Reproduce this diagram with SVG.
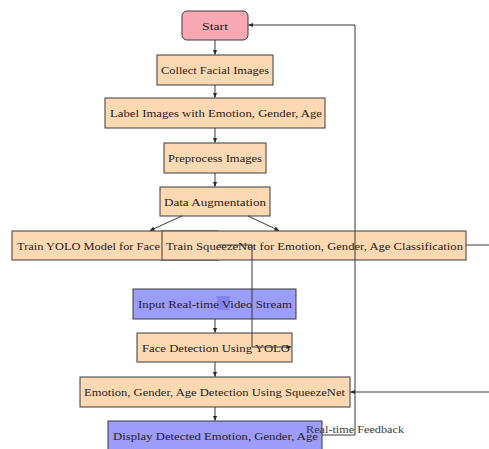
<svg xmlns="http://www.w3.org/2000/svg" width="489" height="449" viewBox="0 0 489 449">
<style>
.n{stroke:#3a3a3a;stroke-width:1}
.o{fill:#fdd9b3}
.b{fill:#9c9cfb}
.p{fill:#f7a8b2}
.t{font-family:"Liberation Serif","DejaVu Serif",serif;font-size:11px;fill:#2a2218;text-anchor:middle;dominant-baseline:central}
.e{fill:none;stroke:#3a3a3a;stroke-width:1}
</style>
<defs>
<marker id="a" viewBox="0 0 6 6" refX="5.5" refY="3" markerWidth="5" markerHeight="5" orient="auto" markerUnits="userSpaceOnUse">
<path d="M0,0.5 L6,3 L0,5.5 z" fill="#2a2a2a"/>
</marker>
</defs>
<rect width="489" height="449" fill="#ffffff"/>
<g id="start"><rect class="n p" x="182" y="11" width="66" height="29" rx="5"/><text class="t" x="215" y="25.5" textLength="26" lengthAdjust="spacingAndGlyphs">Start</text></g>
<g id="collect"><rect class="n o" x="157" y="55" width="116" height="30"/><text class="t" x="215" y="70" textLength="108" lengthAdjust="spacingAndGlyphs">Collect Facial Images</text></g>
<g id="label"><rect class="n o" x="105" y="98" width="220" height="30"/><text class="t" x="216" y="113" textLength="212" lengthAdjust="spacingAndGlyphs">Label Images with Emotion, Gender, Age</text></g>
<g id="preprocess"><rect class="n o" x="164" y="143" width="102" height="30"/><text class="t" x="215" y="158" textLength="94" lengthAdjust="spacingAndGlyphs">Preprocess Images</text></g>
<g id="augment"><rect class="n o" x="160" y="187" width="110" height="29"/><text class="t" x="215" y="201.5" textLength="102" lengthAdjust="spacingAndGlyphs">Data Augmentation</text></g>
<g id="trainyolo"><rect class="n o" x="12" y="231" width="206" height="29"/><text class="t" x="17" y="245.5" textLength="143" lengthAdjust="spacingAndGlyphs" style="text-anchor:start">Train YOLO Model for Face</text></g>
<g id="trainsq"><rect class="n o" x="162" y="231" width="304" height="29"/><text class="t" x="314.5" y="245.5" textLength="297" lengthAdjust="spacingAndGlyphs">Train SqueezeNet for Emotion, Gender, Age Classification</text></g>
<g id="input"><rect class="n b" x="133" y="289" width="163" height="30"/><rect x="217" y="296" width="13" height="14" fill="#7a7ae8" opacity="0.7"/><text class="t" x="215" y="304" textLength="154" lengthAdjust="spacingAndGlyphs">Input Real-time Video Stream</text></g>
<g id="facedet"><rect class="n o" x="137" y="333" width="155" height="29"/><text class="t" x="216" y="347.5" textLength="148" lengthAdjust="spacingAndGlyphs">Face Detection Using YOLO</text></g>
<g id="emotion"><rect class="n o" x="80" y="377" width="270" height="30"/><text class="t" x="214.5" y="392" textLength="261" lengthAdjust="spacingAndGlyphs">Emotion, Gender, Age Detection Using SqueezeNet</text></g>
<g id="display"><rect class="n b" x="108" y="421" width="214" height="31"/><text class="t" x="215.5" y="436" textLength="205" lengthAdjust="spacingAndGlyphs">Display Detected Emotion, Gender, Age</text></g>
<g id="connectors">
<path class="e" d="M215,40 V54.5" marker-end="url(#a)"/>
<path class="e" d="M215,85 V97.5" marker-end="url(#a)"/>
<path class="e" d="M215,128 V142.5" marker-end="url(#a)"/>
<path class="e" d="M215,173 V186.5" marker-end="url(#a)"/>
<path class="e" d="M182,216 L150,230.5" marker-end="url(#a)"/>
<path class="e" d="M248,216 L279,230.5" marker-end="url(#a)"/>
<path class="e" d="M215,319 V332.5" marker-end="url(#a)"/>
<path class="e" d="M215,362 V376.5" marker-end="url(#a)"/>
<path class="e" d="M215,407 V420.5" marker-end="url(#a)"/>
<path class="e" d="M218,245 H252 V347 H291" marker-end="url(#a)"/>
<path class="e" d="M466,245 H489"/>
<path class="e" d="M489,392 H350.5" marker-end="url(#a)"/>
<path class="e" d="M322,435 H355 V25 H248.5" marker-end="url(#a)"/>
<text class="t" x="355" y="429" textLength="98" lengthAdjust="spacingAndGlyphs" style="fill:#3a3a3a">Real-time Feedback</text>
</g>
</svg>
